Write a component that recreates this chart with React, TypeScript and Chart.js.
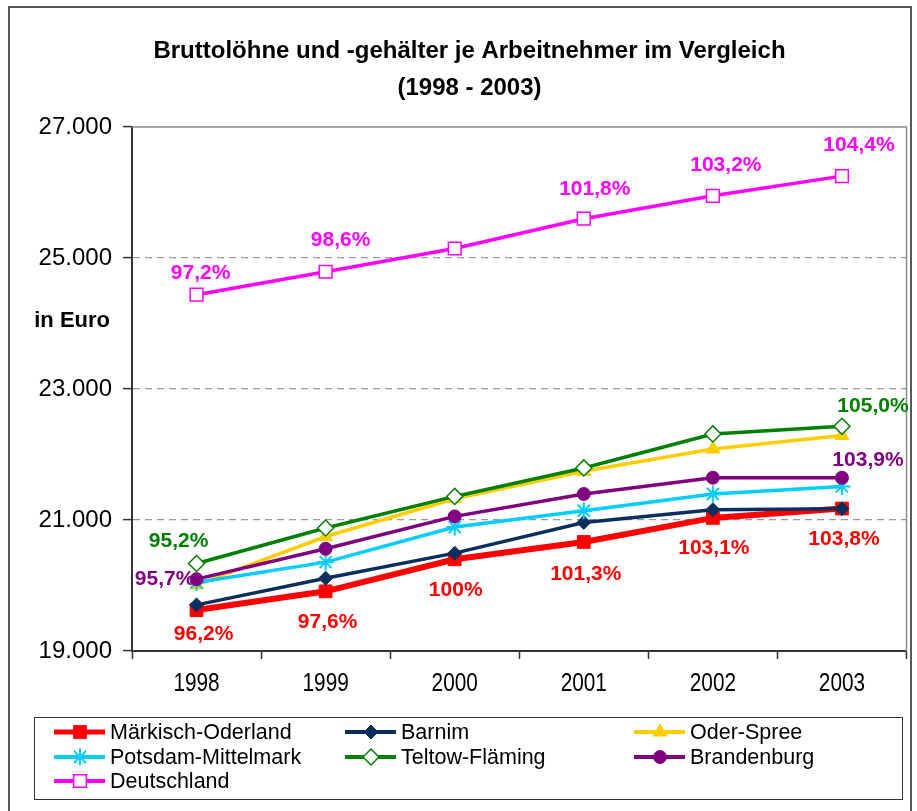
import React, { useEffect, useRef } from 'react';
import { Chart, registerables } from 'chart.js';
import { drawPoint } from 'chart.js/helpers';

Chart.register(...registerables);

// ---- data ----
const years = ['1998', '1999', '2000', '2001', '2002', '2003'];

const maerkischOderland = [19625, 19911, 20400, 20665, 21032, 21175];
const barnim = [19704, 20112, 20494, 20963, 21157, 21172];
const oderSpree = [20010, 20748, 21325, 21743, 22085, 22289];
const potsdamMittelmark = [20045, 20357, 20892, 21141, 21397, 21513];
const teltowFlaeming = [20335, 20877, 21360, 21795, 22314, 22430];
const brandenburg = [20097, 20560, 21055, 21397, 21646, 21646];
const deutschland = [24440, 24790, 25145, 25600, 25950, 26250];

const pctMaerkischOderland = ['96,2%', '97,6%', '100%', '101,3%', '103,1%', '103,8%'];
const pctTeltowFlaeming = ['95,2%', null, null, null, null, '105,0%'];
const pctBrandenburg = ['95,7%', null, null, null, null, '103,9%'];
const pctDeutschland = ['97,2%', '98,6%', null, '101,8%', '103,2%', '104,4%'];

const yMin = 19000;
const yMax = 27000;
const yStep = 2000;

const titleLines = ['Bruttolöhne und -gehälter je Arbeitnehmer im Vergleich', '(1998 - 2003)'];
const unitLabel = 'in Euro';

// ---- styles ----
const FONT = "'Liberation Sans', Arial, sans-serif";

type SeriesStyle = {
  color: string;
  width: number;
  style: string;
  radius: number;
  fill: string;
  pbw: number;
};

const series: { name: string; data: number[]; pct?: (string | null)[]; off?: ([number, number] | null)[]; s: SeriesStyle }[] = [
  {
    name: 'Märkisch-Oderland', data: maerkischOderland, pct: pctMaerkischOderland,
    off: [[7, 24], [2, 31], [1, 31], [2, 32], [1, 30], [2, 31]],
    s: { color: '#FF0000', width: 6, style: 'rect', radius: 9, fill: '#FF0000', pbw: 1 },
  },
  {
    name: 'Barnim', data: barnim,
    s: { color: '#0A2F5E', width: 3.5, style: 'rectRot', radius: 7, fill: '#0A2F5E', pbw: 1 },
  },
  {
    name: 'Oder-Spree', data: oderSpree,
    s: { color: '#FFCC00', width: 3.5, style: 'triangle', radius: 8, fill: '#FFCC00', pbw: 1 },
  },
  {
    name: 'Potsdam-Mittelmark', data: potsdamMittelmark,
    s: { color: '#00CCFF', width: 3.5, style: 'star', radius: 8.5, fill: '#00CCFF', pbw: 2 },
  },
  {
    name: 'Teltow-Fläming', data: teltowFlaeming, pct: pctTeltowFlaeming,
    off: [[-18, -22], null, null, null, null, [31, -20]],
    s: { color: '#008000', width: 3.5, style: 'rectRot', radius: 8, fill: '#FFFFFF', pbw: 1.5 },
  },
  {
    name: 'Brandenburg', data: brandenburg, pct: pctBrandenburg,
    off: [[-32, 0], null, null, null, null, [26, -17]],
    s: { color: '#800080', width: 3.5, style: 'circle', radius: 6.5, fill: '#800080', pbw: 1 },
  },
  {
    name: 'Deutschland', data: deutschland, pct: pctDeutschland,
    off: [[4, -21], [15, -32], null, [11, -29], [13, -31], [17, -31]],
    s: { color: '#FF00FF', width: 3.5, style: 'rect', radius: 9, fill: '#FFFFFF', pbw: 1.5 },
  },
];

const fmt = (v: number) => String(v).replace(/\B(?=(\d{3})+(?!\d))/g, '.');

const decorPlugin = {
  id: 'decor',
  beforeDatasetsDraw(chart: any) {
    const { ctx, chartArea: a } = chart;
    ctx.save();
    ctx.strokeStyle = '#8C8C8C';
    ctx.lineWidth = 1.5;
    ctx.beginPath();
    ctx.moveTo(a.left, a.top);
    ctx.lineTo(a.right, a.top);
    ctx.lineTo(a.right, a.bottom);
    ctx.stroke();
    ctx.restore();
  },
  afterDatasetsDraw(chart: any) {
    const { ctx } = chart;
    ctx.save();
    ctx.font = `bold 21px ${FONT}`;
    ctx.textAlign = 'center';
    ctx.textBaseline = 'middle';
    series.forEach((sr, i) => {
      if (!sr.pct) return;
      const meta = chart.getDatasetMeta(i);
      sr.pct.forEach((t, j) => {
        const o = sr.off && sr.off[j];
        if (!t || !o) return;
        const p = meta.data[j];
        ctx.fillStyle = sr.s.color;
        ctx.fillText(t, p.x + o[0], p.y + o[1]);
      });
    });
    ctx.restore();
  },
  afterDraw(chart: any) {
    const { ctx, width, height, chartArea: a } = chart;
    const yScale = chart.scales.y;
    const xScale = chart.scales.x;
    ctx.save();
    // outer frame
    ctx.strokeStyle = '#222';
    ctx.lineWidth = 1.5;
    ctx.strokeRect(9, 7, width - 15, height + 10);
    // title
    ctx.fillStyle = '#000';
    ctx.font = `bold 24px ${FONT}`;
    ctx.textAlign = 'center';
    ctx.textBaseline = 'alphabetic';
    ctx.fillText(titleLines[0], width / 2 + 11, 58);
    ctx.fillText(titleLines[1], width / 2 + 11, 95);
    // category labels (condensed, as in the original)
    ctx.font = `26px ${FONT}`;
    chart.data.labels.forEach((lab: string, i: number) => {
      const x = xScale.getPixelForTick(i);
      ctx.save();
      ctx.translate(x, a.bottom + 40);
      ctx.scale(0.8, 1);
      ctx.fillText(lab, 0, 0);
      ctx.restore();
    });
    // unit label
    ctx.font = `bold 22px ${FONT}`;
    ctx.textAlign = 'right';
    ctx.textBaseline = 'middle';
    ctx.fillText(unitLabel, a.left - 22, yScale.getPixelForValue(24000) - 3);
    // legend
    const lx = 34, ly = a.bottom + 66, lw = 868, lh = 82;
    ctx.strokeStyle = '#333';
    ctx.lineWidth = 1;
    ctx.strokeRect(lx + 0.5, ly + 0.5, lw, lh);
    const colX = [lx + 20, lx + 311, lx + 600];
    const rowY = [ly + 15, ly + 40, ly + 64];
    ctx.font = `21.5px ${FONT}`;
    ctx.textAlign = 'left';
    ctx.textBaseline = 'middle';
    series.forEach((sr, i) => {
      const x = colX[i % 3];
      const y = rowY[Math.floor(i / 3)];
      ctx.strokeStyle = sr.s.color;
      ctx.lineWidth = i === 0 ? 5 : 4;
      ctx.beginPath();
      ctx.moveTo(x, y);
      ctx.lineTo(x + 51, y);
      ctx.stroke();
      ctx.fillStyle = sr.s.fill;
      ctx.strokeStyle = sr.s.color;
      ctx.lineWidth = sr.s.pbw;
      drawPoint(ctx, { pointStyle: sr.s.style as any, radius: sr.s.radius, rotation: 0, borderWidth: sr.s.pbw }, x + 26, y);
      ctx.fillStyle = '#000';
      ctx.fillText(sr.name, x + 56, y + 1);
    });
    ctx.restore();
  },
};

export default function App() {
  const ref = useRef<HTMLCanvasElement>(null);
  useEffect(() => {
    document.body.style.margin = '0';
    const chart = new Chart(ref.current as HTMLCanvasElement, {
      type: 'line',
      data: {
        labels: years,
        datasets: series.map((sr, i) => ({
          label: sr.name,
          data: sr.data,
          order: -i,
          borderColor: sr.s.color,
          borderWidth: sr.s.width,
          backgroundColor: sr.s.fill,
          pointStyle: sr.s.style as any,
          pointRadius: sr.s.radius,
          pointBackgroundColor: sr.s.fill,
          pointBorderColor: sr.s.color,
          pointBorderWidth: sr.s.pbw,
          tension: 0,
          fill: false,
        })),
      },
      options: {
        animation: false,
        responsive: false,
        devicePixelRatio: 1,
        layout: { padding: { top: 127, right: 10, bottom: 110, left: 0 } },
        plugins: {
          legend: { display: false },
          title: { display: false },
          tooltip: { enabled: false },
        },
        scales: {
          x: {
            type: 'category',
            offset: true,
            afterFit: (s: any) => { s.height = 50; },
            grid: {
              offset: true,
              drawOnChartArea: false,
              drawTicks: true,
              tickLength: 8,
              tickColor: '#333',
              tickWidth: 1.5,
            },
            border: { display: true, color: '#333', width: 2 },
            ticks: {
              display: false,
              maxRotation: 0,
            },
          },
          y: {
            min: yMin,
            max: yMax,
            afterFit: (s: any) => { s.width = 132; },
            grid: {
              color: (c: any) => (c.tick && (c.tick.value === yMin || c.tick.value === yMax) ? 'rgba(0,0,0,0)' : '#999'),
              lineWidth: 1.2,
              tickLength: 9,
              tickColor: '#333',
              tickWidth: 1.5,
              tickBorderDash: [],
            } as any,
            border: { display: true, color: '#333', width: 2, dash: [7, 5] },
            ticks: {
              stepSize: yStep,
              color: '#000',
              font: { family: FONT, size: 24 },
              padding: 11,
              callback: (v: any) => fmt(Number(v)),
            },
          },
        },
      },
      plugins: [decorPlugin],
    });
    return () => chart.destroy();
  }, []);
  return (
    <div style={{ width: 917, height: 811 }}>
      <canvas ref={ref} width={917} height={811} style={{ display: 'block' }} />
    </div>
  );
}
